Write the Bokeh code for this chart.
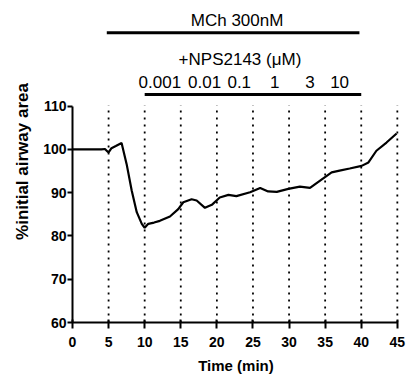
from bokeh.plotting import figure
from bokeh.models import FixedTicker, Range1d
from bokeh.core.properties import value
from bokeh.embed import file_html
from bokeh.resources import INLINE

# --- data ---
time_min = [0, 1, 2, 3, 4, 4.5, 4.8, 5.0, 5.4, 6.0, 6.8, 7.5, 8.2, 8.9, 9.6, 10.0, 10.5,
            11.3, 12.1, 13.5, 14.65, 15.35, 16.5, 17.2, 18.35, 19.3, 20.4, 21.6, 22.7,
            24.6, 26.0, 27.1, 28.3, 29.9, 31.5, 32.9, 34.3, 35.9, 37.0, 38.4, 40.05,
            41.0, 42.1, 43.5, 44.9]
airway_pct = [100, 100, 100, 100, 100, 100.1, 99.6, 99.3, 100.3, 100.8, 101.5, 96.6, 90.5,
              85.5, 82.8, 81.9, 82.8, 83.1, 83.5, 84.5, 86.2, 87.8, 88.5, 88.2, 86.5, 87.2,
              88.9, 89.5, 89.2, 90.1, 91.1, 90.3, 90.2, 90.9, 91.4, 91.1, 92.8, 94.7,
              95.1, 95.6, 96.2, 97.0, 99.7, 101.6, 103.7]

marker_times = [5, 10, 15, 20, 25, 30, 35, 40, 45]
x_ticks = [0, 5, 10, 15, 20, 25, 30, 35, 40, 45]
y_ticks = [60, 70, 80, 90, 100, 110]

mch_label = "MCh 300nM"
mch_window = [4.75, 39.75]
nps_label = "+NPS2143 (\u03bcM)"
nps_window = [10, 40]
nps_doses = ["0.001", "0.01", "0.1", "1", "3", "10"]

# layout (label anchor positions in time units, row heights in y units)
dose_label_x = [12.1, 18.3, 23.1, 28.0, 32.9, 37.0]
MCH_TEXT_X, NPS_TEXT_X = 22.8, 23.2
ROW_MCH_TEXT, ROW_MCH_BAR = 129.7, 126.97
ROW_NPS_TEXT, ROW_DOSES, ROW_NPS_BAR = 120.9, 115.6, 112.7

FONT = "Liberation Sans"

p = figure(width=408, height=376, output_backend="svg", toolbar_location=None,
           x_range=Range1d(0, 45.3), y_range=Range1d(60, 134.43),
           min_border_left=72, min_border_right=9, min_border_top=0,
           min_border_bottom=54)
p.outline_line_color = None
p.grid.visible = False
p.background_fill_color = "white"
p.border_fill_color = "white"

# dotted vertical markers
for t in marker_times:
    p.line([t, t], [60, 110.2], line_color="black", line_width=1.8,
           line_dash="2 5")

# trace
p.line(time_min, airway_pct, line_color="black", line_width=2.2)

# treatment bars and labels
p.line(mch_window, [ROW_MCH_BAR] * 2, line_color="black", line_width=3)
p.line(nps_window, [ROW_NPS_BAR] * 2, line_color="black", line_width=3.2)
p.text(x=[MCH_TEXT_X], y=[ROW_MCH_TEXT], text=[mch_label],
       text_align="center", text_baseline="middle", text_font_size="17px",
       text_font=value(FONT), text_color="black")
p.text(x=[NPS_TEXT_X], y=[ROW_NPS_TEXT], text=[nps_label],
       text_align="center", text_baseline="middle", text_font_size="17px",
       text_font=value(FONT), text_color="black")
p.text(x=dose_label_x, y=[ROW_DOSES] * len(nps_doses), text=nps_doses,
       text_align="center", text_baseline="middle", text_font_size="17px",
       text_font=value(FONT), text_color="black")

# axes
for ax in (p.xaxis[0], p.yaxis[0]):
    ax.axis_line_width = 2
    ax.major_tick_line_width = 2
    ax.minor_tick_line_color = None
    ax.major_label_text_font = FONT
    ax.major_label_text_font_style = "bold"
    ax.major_label_text_font_size = "14px"
    ax.major_label_text_color = "black"
    ax.axis_label_text_font = FONT
    ax.axis_label_text_font_style = "bold"
    ax.axis_label_text_color = "black"

p.xaxis.ticker = FixedTicker(ticks=x_ticks)
p.xaxis.bounds = (0, 45)
p.xaxis.major_tick_in = 3
p.xaxis.major_tick_out = 6
p.xaxis.major_label_standoff = 8
p.xaxis.axis_label = "Time (min)"
p.xaxis.axis_label_text_font_size = "15px"
p.xaxis.axis_label_standoff = 7

p.yaxis.ticker = FixedTicker(ticks=y_ticks)
p.yaxis.bounds = (60, 110)
p.yaxis.major_tick_in = 0
p.yaxis.major_tick_out = 5
p.yaxis.major_label_standoff = 1
p.yaxis.axis_label = "%initial airway area"
p.yaxis.axis_label_text_font_size = "17px"
p.yaxis.axis_label_standoff = 8

open("out.html", "w").write(file_html(p, INLINE))
